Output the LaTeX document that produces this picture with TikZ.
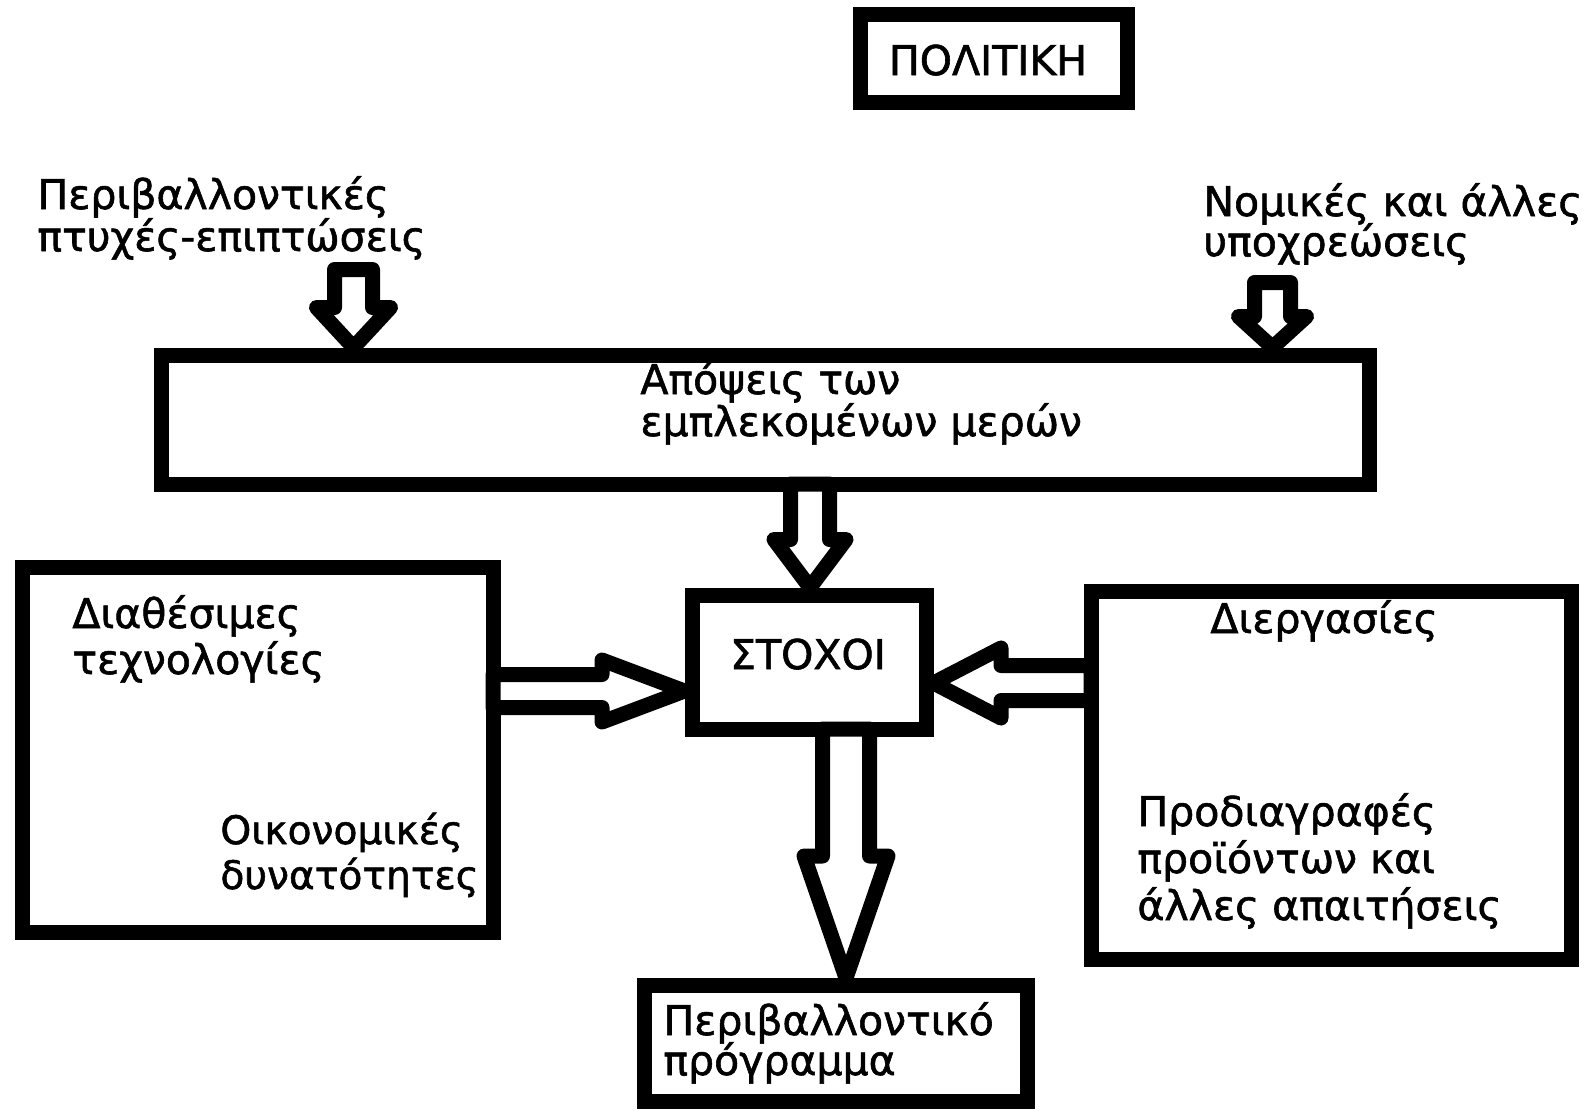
\documentclass[tikz,border=0pt]{standalone}
\usepackage{fontspec}
\setmainfont{DejaVu Sans}[FakeBold=1.4]
\usetikzlibrary{calc}
\newcommand\mlines[2]{\vtop{\baselineskip=#1\lineskiplimit=-20pt\halign{##\hfil\cr#2\crcr}}}
\newcommand\arrdown[5]{\draw[harrow] ($#1+(-#3,0)$) -- ($#1+(#3,0)$) -- ($#2+(#3,-#5)$) -- ($#2+(#4,-#5)$) -- #2 -- ($#2+(-#4,-#5)$) -- ($#2+(-#3,-#5)$) -- cycle;}
\newcommand\arrright[5]{\draw[harrow] ($#1+(0,-#3)$) -- ($#2+(-#5,-#3)$) -- ($#2+(-#5,-#4)$) -- #2 -- ($#2+(-#5,#4)$) -- ($#2+(-#5,#3)$) -- ($#1+(0,#3)$) -- cycle;}
\newcommand\arrleft[5]{\draw[harrow] ($#1+(0,-#3)$) -- ($#2+(#5,-#3)$) -- ($#2+(#5,-#4)$) -- #2 -- ($#2+(#5,#4)$) -- ($#2+(#5,#3)$) -- ($#1+(0,#3)$) -- cycle;}
\tikzset{
  boxst/.style={draw, line width=7.5pt, inner sep=0pt, fill=white},
  harrow/.style={draw, line width=7.5pt, line join=round, fill=white},
  lbl/.style={anchor=base west, inner sep=0pt, font=\fontsize{20.5}{24}\selectfont},
  ctr/.style={anchor=base, inner sep=0pt, font=\fontsize{20.5}{24}\selectfont},
}
\begin{document}
\begin{tikzpicture}[x=0.5pt,y=-0.5pt]
\useasboundingbox[fill=white] (0,0) rectangle (1585,1109);
% boxes
\node[boxst, minimum width=133.5pt, minimum height=44pt] (polbox) at (994,58.5) {};
\node[boxst, minimum width=604pt, minimum height=64.5pt] (mainbox) at (765,419.5) {};
\node[boxst, minimum width=235.5pt, minimum height=182.5pt] (leftbox) at (257.5,749.5) {};
\node[boxst, minimum width=117pt, minimum height=67pt] (stoxoi) at (809,662) {};
\node[boxst, minimum width=240pt, minimum height=184pt] (rightbox) at (1331,775) {};
\node[boxst, minimum width=191.5pt, minimum height=58pt] (progbox) at (836,1043.5) {};
% texts
\node[ctr] (poltxt) at (988,75) {ΠΟΛΙΤΙΚΗ};
\node[ctr] (stoxtxt) at (808,669) {ΣΤΟΧΟΙ};
\node[lbl] (t1) at (37,209) {\mlines{21pt}{Περιβαλλοντικές\cr πτυχές-επιπτώσεις}};
\node[lbl] (t2) at (1203,216) {\mlines{20pt}{Νομικές και άλλες\cr υποχρεώσεις}};
\node[lbl] (t3) at (640,394) {\mlines{21pt}{Απόψεις των\cr εμπλεκομένων μερών}};
\node[lbl] (t4) at (72,628) {\mlines{23pt}{Διαθέσιμες\cr τεχνολογίες}};
\node[lbl, font=\fontsize{19.6}{24}\selectfont] (t5) at (220,844) {\mlines{22.5pt}{Οικονομικές\cr δυνατότητες}};
\node[lbl] (t6) at (1210,633) {Διεργασίες};
\node[lbl] (t7) at (1137,826) {\mlines{23.5pt}{Προδιαγραφές\cr προϊόντων και\cr άλλες απαιτήσεις}};
\node[lbl] (t8) at (663,1035) {\mlines{20pt}{Περιβαλλοντικό\cr πρόγραμμα}};
% arrows
\coordinate (a1s) at (353.5,269.5);
\coordinate (a1t) at (a1s |- mainbox.north);
\arrdown{(a1s)}{(a1t)}{19}{37}{40}
\coordinate (a2s) at (1272.5,282.5);
\coordinate (a2t) at (a2s |- mainbox.north);
\arrdown{(a2s)}{(a2t)}{18}{34}{31}
\coordinate (a3s) at (810,484);
\coordinate (a3t) at (a3s |- stoxoi.north);
\arrdown{(a3s)}{(a3t)}{19.5}{36}{48}
\coordinate (a6s) at (846,729);
\coordinate (a6t) at (a6s |- progbox.north);
\arrdown{(a6s)}{(a6t)}{23.5}{42}{122}
\coordinate (a4s) at (493,691);
\coordinate (a4t) at (a4s -| stoxoi.west);
\arrright{(a4s)}{(a4t)}{16.5}{31}{82.5}
\coordinate (a5s) at (1091,683);
\coordinate (a5t) at (a5s -| stoxoi.east);
\arrleft{(a5s)}{(a5t)}{17.5}{35}{67.5}
\end{tikzpicture}
\end{document}
